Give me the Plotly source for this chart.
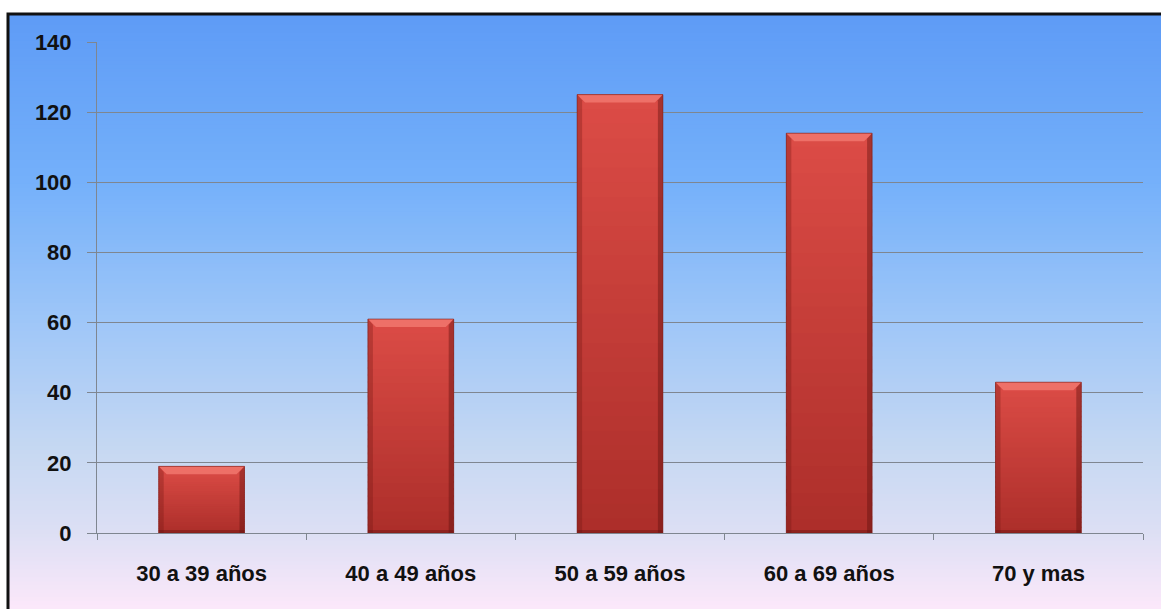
import plotly.graph_objects as go

# Age groups and counts
categories = ["30 a 39 años", "40 a 49 años", "50 a 59 años", "60 a 69 años", "70 y mas"]
counts = [19, 61, 125, 114, 43]
y_ticks = [0, 20, 40, 60, 80, 100, 120, 140]

W, H = 1161, 609
M_L, M_R, M_T, M_B = 97, 18, 42, 76
PW, PH = W - M_L - M_R, H - M_T - M_B
Y_MAX = 140
BAR_GAP = 0.59
HALF = (1 - BAR_GAP) / 2

FONT = "Liberation Sans Narrow, Arial Narrow, Liberation Sans, Arial, sans-serif"


def px_to_paper_y(py):
    return (M_T + PH - py) / PH


def px_to_paper_x(px):
    return (px - M_L) / PW


def lerp(c1, c2, t):
    return tuple(round(a + (b - a) * t) for a, b in zip(c1, c2))


def rgb(c):
    return "rgb(%d,%d,%d)" % c


# vertical background gradient stops: (pixel row, colour)
bg_stops = [
    (13, (94, 155, 246)),
    (180, (116, 176, 250)),
    (320, (158, 198, 248)),
    (450, (198, 216, 242)),
    (530, (220, 223, 244)),
    (609, (252, 232, 250)),
]


def bg_color(py):
    for (y0, c0), (y1, c1) in zip(bg_stops, bg_stops[1:]):
        if y0 <= py <= y1:
            return lerp(c0, c1, (py - y0) / (y1 - y0))
    return bg_stops[-1][1]


shapes = []
top_px, bot_px = 13, 609
n_bands = 150
step = (bot_px - top_px) / n_bands
for i in range(n_bands):
    p0 = top_px + i * step
    p1 = p0 + step + 2
    shapes.append(dict(
        type="rect", xref="paper", yref="paper", layer="below",
        x0=px_to_paper_x(7), x1=px_to_paper_x(W + 5),
        y0=px_to_paper_y(min(p1, bot_px + 5)), y1=px_to_paper_y(p0),
        fillcolor=rgb(bg_color(p0 + step / 2)), line=dict(width=0),
    ))

# outer frame (top and left edges visible)
shapes.append(dict(
    type="rect", xref="paper", yref="paper", layer="above",
    x0=px_to_paper_x(8), x1=px_to_paper_x(W + 10),
    y0=px_to_paper_y(H + 10), y1=px_to_paper_y(14),
    fillcolor="rgba(0,0,0,0)", line=dict(color="#111111", width=3),
))

# bar shading: vertical gradient, bevelled top and darker sides
bar_top = (220, 76, 70)
bar_bot = (172, 46, 42)
px_per_unit = PH / Y_MAX
bev_y = 8 / px_per_unit
bev_x = 8 / PW * 5
side_x = 5 / PW * 5
for i, v in enumerate(counts):
    x0, x1 = i - HALF, i + HALF
    n = 30
    for k in range(n):
        ya = v * k / n
        yb = v * (k + 1) / n
        t = (k + 0.5) / n
        shapes.append(dict(
            type="rect", xref="x", yref="y", layer="above",
            x0=x0, x1=x1, y0=ya, y1=min(v, yb + v / n * 0.3),
            fillcolor=rgb(lerp(bar_bot, bar_top, t)), line=dict(width=0),
        ))
    # top bevel
    shapes.append(dict(
        type="path", xref="x", yref="y", layer="above",
        path=f"M {x0},{v} L {x1},{v} L {x1 - bev_x},{v - bev_y} L {x0 + bev_x},{v - bev_y} Z",
        fillcolor="rgba(246,128,118,0.7)", line=dict(width=0),
    ))
    # side shading
    shapes.append(dict(
        type="path", xref="x", yref="y", layer="above",
        path=f"M {x0},{v} L {x0 + side_x},{v - bev_y * 0.7} L {x0 + side_x},0 L {x0},0 Z",
        fillcolor="rgba(110,20,18,0.3)", line=dict(width=0),
    ))
    shapes.append(dict(
        type="path", xref="x", yref="y", layer="above",
        path=f"M {x1},{v} L {x1 - side_x},{v - bev_y * 0.7} L {x1 - side_x},0 L {x1},0 Z",
        fillcolor="rgba(90,14,12,0.4)", line=dict(width=0),
    ))
    # bottom edge
    shapes.append(dict(
        type="rect", xref="x", yref="y", layer="above",
        x0=x0, x1=x1, y0=0, y1=3 / px_per_unit,
        fillcolor="rgba(90,14,12,0.35)", line=dict(width=0),
    ))
    # outline
    shapes.append(dict(
        type="rect", xref="x", yref="y", layer="above",
        x0=x0, x1=x1, y0=0, y1=v,
        fillcolor="rgba(0,0,0,0)", line=dict(color="rgba(120,30,26,0.6)", width=1),
    ))

fig = go.Figure(go.Bar(
    x=categories, y=counts,
    marker=dict(color=rgb(bar_top), line=dict(width=0)),
    hoverinfo="x+y",
))

fig.update_layout(
    width=W, height=H,
    margin=dict(l=M_L, r=M_R, t=M_T, b=M_B, pad=0),
    paper_bgcolor="white",
    plot_bgcolor="rgba(0,0,0,0)",
    bargap=BAR_GAP,
    showlegend=False,
    shapes=shapes,
    font=dict(family=FONT, size=22, color="#111111"),
)

fig.update_xaxes(
    type="category",
    tickson="boundaries",
    ticks="outside", ticklen=6, tickcolor="#7f8690", tickwidth=1,
    showline=True, linecolor="#7f8690", linewidth=1,
    showgrid=False,
    tickfont=dict(family=FONT, size=22, color="#111111", weight="bold"),
    ticklabelstandoff=21,
)

fig.update_yaxes(
    range=[0, Y_MAX],
    tickvals=y_ticks,
    ticks="outside", ticklen=9, tickcolor="#7f8690", tickwidth=1,
    showline=True, linecolor="#7f8690", linewidth=1,
    showgrid=True, gridcolor="#7f8690", gridwidth=1,
    zeroline=False,
    tickfont=dict(family=FONT, size=22, color="#111111", weight="bold"),
    ticklabelstandoff=11,
)

fig.write_html("out.html")
